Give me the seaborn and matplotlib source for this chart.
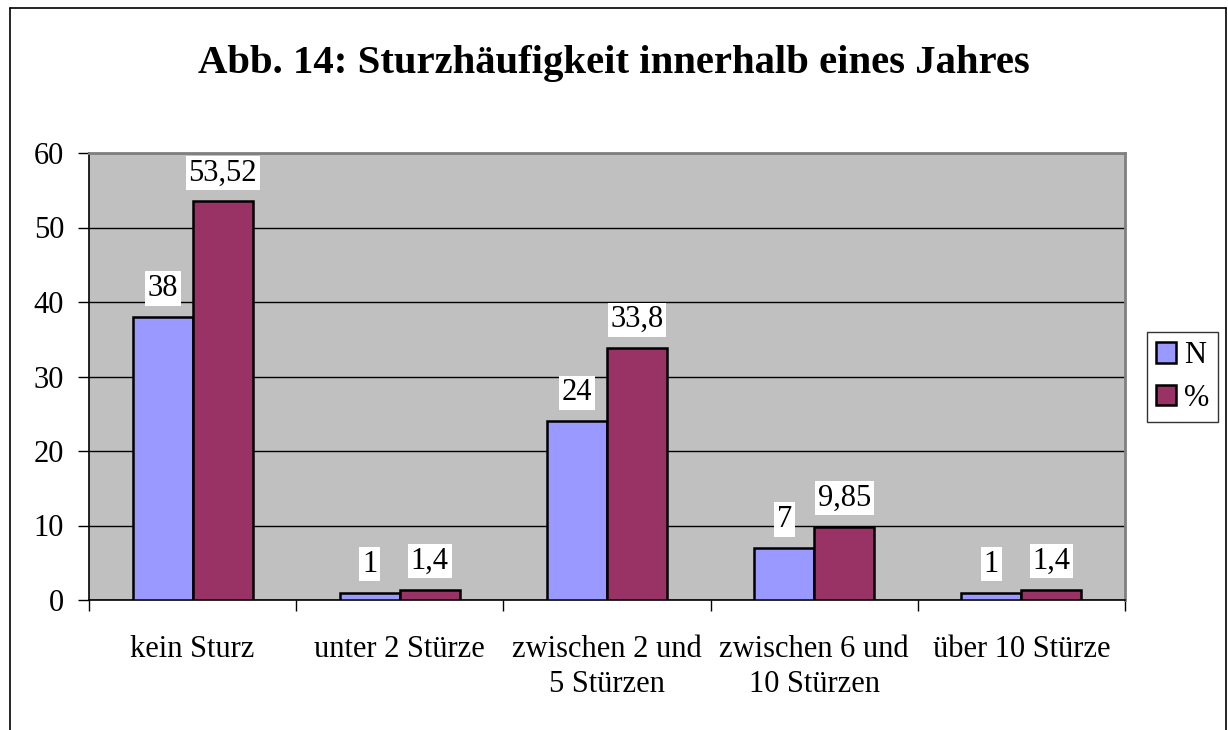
import matplotlib
matplotlib.use('Agg')
import matplotlib.pyplot as plt
import matplotlib.patches as mpatches
from matplotlib.lines import Line2D
import pandas as pd
import seaborn as sns

# Data
categories = ['kein Sturz', 'unter 2 Stürze', 'zwischen 2 und\n5 Stürzen',
              'zwischen 6 und\n10 Stürzen', 'über 10 Stürze']
n_values = [38, 1, 24, 7, 1]
pct_values = [53.52, 1.4, 33.8, 9.85, 1.4]
n_labels = ['38', '1', '24', '7', '1']
pct_labels = ['53,52', '1,4', '33,8', '9,85', '1,4']
series = ['N', '%']
colors = ['#9999FF', '#993366']

df = pd.DataFrame({
    'Kategorie': categories * 2,
    'Wert': n_values + pct_values,
    'Serie': [series[0]] * len(categories) + [series[1]] * len(categories),
})

sns.set_style('white')
plt.rcParams['font.family'] = ['Liberation Serif', 'DejaVu Serif']
plt.rcParams['text.color'] = 'black'
plt.rcParams['xtick.color'] = 'black'
plt.rcParams['ytick.color'] = 'black'
plt.rcParams['axes.labelcolor'] = 'black'

W, H = 1228, 730
fig = plt.figure(figsize=(W / 100, H / 100), dpi=100)
ax = fig.add_axes([89 / W, 1 - 600 / H, (1125 - 89) / W, 447 / H])

sns.barplot(data=df, x='Kategorie', y='Wert', hue='Serie', palette=colors,
            saturation=1, width=0.58, edgecolor='black', linewidth=1.8, ax=ax,
            legend=False, zorder=3)

ax.set_facecolor('#C0C0C0')
ax.set_ylim(0, 60)
ax.set_xlim(-0.5, len(categories) - 0.5)
ax.set_yticks(range(0, 61, 10))
ax.yaxis.grid(True, color='black', linewidth=1, zorder=1)
ax.set_axisbelow(True)
ax.set_xlabel('')
ax.set_ylabel('')

# x ticks at category boundaries, labels in middle
ax.set_xticks([i - 0.5 for i in range(len(categories) + 1)])
ax.set_xticklabels([])
ax.set_xticks(range(len(categories)), minor=True)
ax.set_xticklabels(categories, minor=True, fontsize=22, linespacing=1.3)
ax.tick_params(axis='x', which='major', length=8, width=1, direction='out', bottom=True)
ax.tick_params(axis='x', which='minor', length=0, pad=25)
ax.tick_params(axis='y', length=8, width=1, direction='out', left=True, labelsize=22, pad=10)

for side in ['top', 'right']:
    ax.spines[side].set_color('#808080')
    ax.spines[side].set_linewidth(2)
for side in ['left', 'bottom']:
    ax.spines[side].set_color('black')
    ax.spines[side].set_linewidth(1.2)

# data labels
for cont, labs in zip(ax.containers, [n_labels, pct_labels]):
    ax.bar_label(cont, labels=labs, padding=10, fontsize=22,
                 bbox=dict(facecolor='white', edgecolor='none', pad=2))

fig.suptitle('Abb. 14: Sturzhäufigkeit innerhalb eines Jahres', x=0.5, y=1 - 63 / H,
             va='center', fontsize=29.3, fontweight='bold')

handles = [mpatches.Patch(facecolor=c, edgecolor='black', linewidth=1.8, label=s)
           for c, s in zip(colors, series)]
leg = fig.legend(handles=handles, loc='center left', bbox_to_anchor=(1147 / W, 1 - 377 / H),
                 fontsize=22, frameon=True, fancybox=False, edgecolor='black',
                 handlelength=0.66, handleheight=0.66, handletextpad=0.25,
                 borderpad=0.3, labelspacing=0.45, borderaxespad=0)
leg.get_frame().set_linewidth(1)

# chart border
fig.add_artist(Line2D([10 / W, 10 / W], [0, 1 - 8 / H], color='black', linewidth=1.2))
fig.add_artist(Line2D([10 / W, 1226 / W], [1 - 8 / H, 1 - 8 / H], color='black', linewidth=1.2))
fig.add_artist(Line2D([1226 / W, 1226 / W], [0, 1 - 8 / H], color='black', linewidth=1.2))

fig.savefig('out.png', dpi=100)
